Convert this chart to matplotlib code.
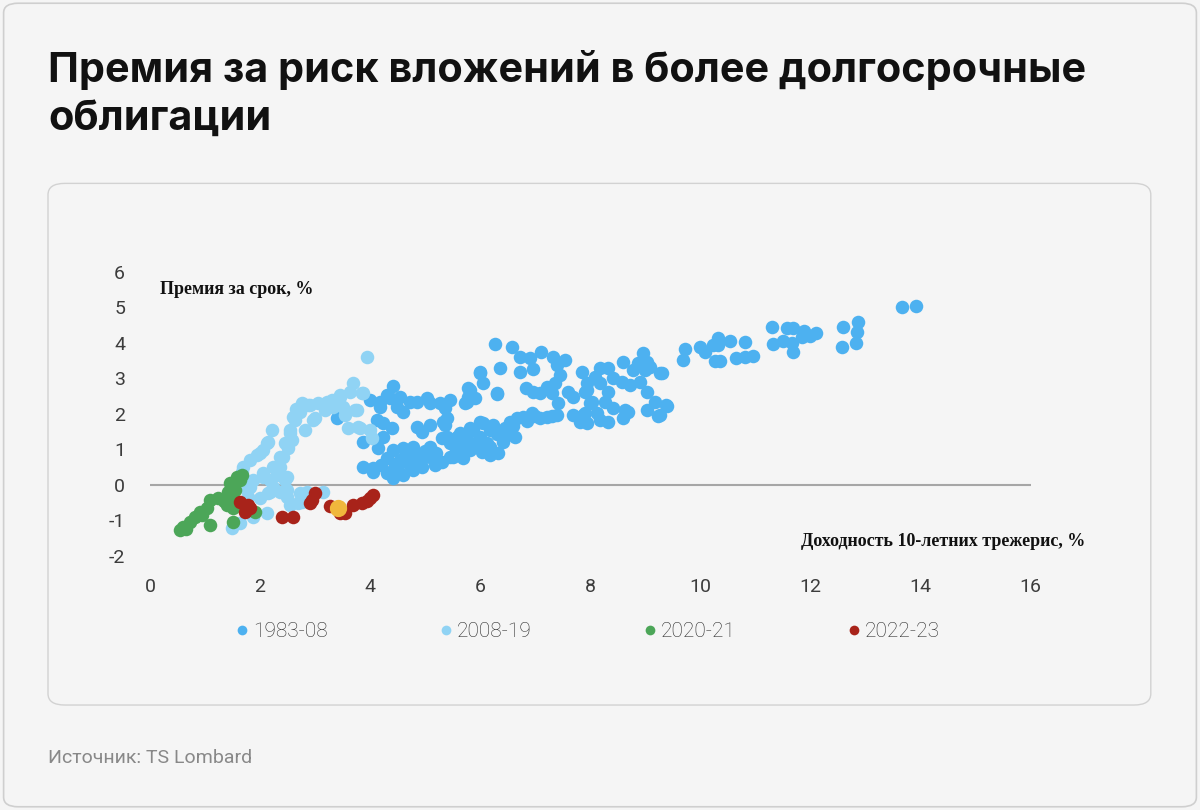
import matplotlib.pyplot as plt
from matplotlib.patches import FancyBboxPatch
from matplotlib.lines import Line2D

plt.rcParams['axes.unicode_minus'] = False

# 1983-08
blue_x = [13.66, 13.91, 12.86, 12.59, 12.84, 12.57, 12.82, 11.30, 11.57, 11.68, 11.88, 12.10, 11.99, 11.84, 11.50,
          11.66, 11.32, 11.68, 9.72, 9.68, 9.99, 10.08, 10.23, 10.32, 10.32, 10.53, 10.81, 10.26, 10.35, 10.64,
          10.81, 10.95, 9.30, 9.39, 9.26,
          8.95, 8.59, 9.03, 8.86, 9.08, 8.77, 8.99, 9.26, 8.17, 8.32, 7.85, 8.08, 8.41, 8.57, 8.72, 8.90, 7.94,
          8.17, 7.90, 8.32, 9.03, 8.26, 7.99, 9.17, 9.37, 9.03, 9.23, 8.41, 8.63, 8.68, 8.59, 8.12, 7.86, 7.81,
          8.32, 8.17, 7.94,
          6.27, 6.57, 7.10, 6.72, 6.90, 7.32, 7.54, 7.39, 5.99, 6.36, 6.72, 6.96, 7.45, 6.05, 7.36, 7.21, 6.83,
          7.08, 6.96, 7.30, 6.30, 5.81, 5.78, 5.90, 5.45, 5.72, 7.59, 7.68, 7.94, 8.03, 7.41, 5.27, 5.39, 5.36,
          7.68, 7.90, 7.39,
          5.50, 5.69, 5.63, 5.81, 5.87, 5.99, 5.99, 6.18, 6.12, 6.23, 6.32, 6.41, 6.54, 6.66, 6.77, 6.94, 7.08,
          7.21, 6.63, 6.03, 6.18, 5.39, 5.58, 6.45, 6.60, 6.85, 7.00, 7.30, 6.30, 6.50,
          4.41, 5.99, 5.78, 5.75, 6.30, 4.00, 4.18, 4.36, 4.54, 4.48, 4.72, 4.85, 5.03, 5.09, 4.60, 5.36, 4.12,
          4.23, 4.40, 4.23, 3.87, 4.14, 4.85, 5.09, 4.94, 5.32, 5.30, 5.45, 5.63, 5.81, 6.05, 4.41, 4.60, 4.78,
          5.09, 4.30, 4.54, 4.85, 5.09, 5.18, 5.45, 3.87, 4.05, 4.41, 4.60, 4.78, 4.94, 4.41, 5.63, 5.81, 5.99,
          6.18, 4.18, 4.30, 3.40, 4.05,
          4.50, 4.70, 4.90, 5.00, 5.20, 5.30, 4.65, 4.45, 5.55, 5.75, 5.90, 4.30, 4.20]
blue_y = [5.01, 5.04, 4.59, 4.45, 4.31, 3.89, 4.00, 4.45, 4.42, 4.42, 4.34, 4.28, 4.20, 4.17, 4.06,
          4.00, 3.97, 3.75, 3.83, 3.52, 3.89, 3.75, 3.94, 4.14, 3.94, 4.06, 4.03, 3.49, 3.49, 3.58,
          3.61, 3.63, 3.15, 2.23, 1.97,
          3.72, 3.46, 3.46, 3.43, 3.32, 3.24, 3.24, 3.15, 3.30, 3.30, 3.18, 3.04, 3.01, 2.90, 2.82, 2.90, 2.87,
          2.87, 2.62, 2.62, 2.62, 2.34, 2.31, 2.34, 2.25, 2.11, 1.94, 2.17, 2.11, 2.06, 1.89, 2.03, 1.97, 1.77,
          1.77, 1.83, 1.75,
          3.97, 3.89, 3.75, 3.61, 3.58, 3.61, 3.52, 3.38, 3.18, 3.30, 3.18, 3.27, 3.10, 2.87, 2.87, 2.76, 2.73,
          2.59, 2.62, 2.59, 2.59, 2.68, 2.48, 2.45, 2.39, 2.31, 2.62, 2.48, 2.68, 2.34, 2.31, 2.31, 1.89, 1.69,
          1.97, 2.03, 1.97,
          0.79, 0.76, 1.07, 1.18, 1.55, 1.35, 1.77, 1.55, 1.18, 1.69, 0.90, 1.21, 1.77, 1.89, 1.92, 2.03, 1.89,
          1.92, 1.35, 0.93, 0.85, 1.35, 1.35, 1.60, 1.65, 1.80, 1.95, 1.95, 1.45, 1.45,
          2.79, 3.15, 2.73, 2.34, 2.56, 2.39, 2.34, 2.45, 2.48, 2.20, 2.34, 2.34, 2.45, 2.31, 2.06, 2.17, 1.83,
          1.75, 1.61, 1.35, 1.21, 1.04, 1.63, 1.69, 1.49, 1.77, 1.32, 1.18, 1.46, 1.61, 1.75, 0.99, 1.04, 1.07,
          1.07, 0.76, 0.70, 0.79, 0.79, 0.56, 0.79, 0.51, 0.48, 0.42, 0.28, 0.42, 0.51, 0.20, 0.85, 0.99, 1.18,
          1.07, 2.20, 2.54, 1.89, 0.37,
          0.55, 0.60, 0.65, 0.95, 0.90, 0.65, 0.85, 0.60, 1.00, 1.30, 1.10, 0.35, 0.55]

# 2008-19
lblue_x = [3.94, 3.69, 3.63, 3.85, 3.45, 3.21, 3.32, 3.51, 3.76, 3.54, 3.18, 3.60, 3.81, 4.00, 4.03, 2.76, 2.87,
           2.72, 2.96, 2.63, 2.81, 2.54, 2.58, 2.51, 2.42, 2.36, 2.49, 2.31, 2.22, 2.14, 2.05, 1.94, 1.82, 1.69,
           2.05, 2.18, 2.23, 2.14, 1.82, 1.78, 2.36, 2.49, 2.54, 2.76, 2.85, 3.14, 2.69, 2.45, 2.12, 2.00, 1.67,
           2.54, 2.45, 2.36, 2.23, 2.05, 1.87, 1.76, 2.18, 2.49, 2.00, 2.12, 1.87, 1.63, 1.49, 2.72, 2.76, 3.87,
           3.72, 3.78, 3.05, 3.30, 3.40, 2.66, 2.60, 2.91, 3.00, 3.27, 3.45]
lblue_y = [3.61, 2.87, 2.62, 2.59, 2.54, 2.34, 2.20, 2.20, 2.11, 1.97, 2.11, 1.61, 1.61, 1.55, 1.32, 2.31, 2.25,
           2.06, 1.83, 1.83, 1.55, 1.55, 1.27, 1.04, 0.79, 0.51, 0.23, 0.28, 1.55, 1.21, 0.99, 0.85, 0.70, 0.51,
           0.23, 0.14, -0.06, -0.23, -0.06, -0.34, -0.20, -0.34, -0.56, -0.28, -0.20, -0.20, -0.51, 0.14, 1.18,
           0.90, 0.37, 1.46, 1.18, 0.79, 0.51, 0.34, 0.14, -0.14, -0.20, -0.14, -0.37, -0.79, -0.90, -1.07,
           -1.21, -0.23, -0.48, 2.59, 2.11, 1.63, 2.30, 2.40, 2.35, 2.15, 1.92, 2.25, 1.89, 2.31, 2.48]

# 2020-21
green_x = [1.67, 1.58, 1.45, 1.42, 1.49, 1.24, 1.09, 1.40, 1.51, 1.04, 0.91, 0.82, 0.73, 0.60, 0.54, 1.09, 1.51,
           1.91, 1.63, 1.35, 1.55, 0.95, 0.65]
green_y = [0.28, 0.23, 0.06, -0.20, -0.37, -0.37, -0.42, -0.56, -0.65, -0.65, -0.76, -0.90, -1.04, -1.18, -1.27,
           -1.13, -1.04, -0.76, 0.14, -0.45, -0.15, -0.85, -1.25]

# 2022-23
red_x = [1.63, 1.78, 1.73, 1.82, 2.40, 2.60, 3.00, 2.94, 2.91, 3.27, 3.40, 3.54, 3.69, 3.85, 4.00, 4.05, 3.45, 3.95]
red_y = [-0.48, -0.56, -0.76, -0.65, -0.90, -0.90, -0.23, -0.42, -0.51, -0.59, -0.65, -0.79, -0.56, -0.51, -0.37,
         -0.28, -0.80, -0.45]

latest_x = [3.41]
latest_y = [-0.65]

labels = ['1983-08', '2008-19', '2020-21', '2022-23']
colors = ['#4db1f0', '#90d3f4', '#4ca658', '#a8231a']

bg = '#f5f5f5'
fig = plt.figure(figsize=(12, 8.1), dpi=100, facecolor=bg)

fig.patches.append(FancyBboxPatch((0.003, 0.004), 0.994, 0.992, boxstyle='round,pad=0,rounding_size=0.012',
                                  transform=fig.transFigure, facecolor='none', edgecolor='#cfcfcf', lw=1.2,
                                  zorder=-2))
fig.patches.append(FancyBboxPatch((0.04, 0.1296), 0.919, 0.644, boxstyle='round,pad=0,rounding_size=0.014',
                                  transform=fig.transFigure, facecolor='none', edgecolor='#d2d2d2', lw=1.0,
                                  zorder=-2))

fig.text(0.04, 0.938, 'Премия за риск вложений в более долгосрочные\nоблигации', fontsize=29.8,
         fontweight='bold', family='Inter', va='top', ha='left', color='#111111', linespacing=1.36)
fig.text(0.04, 0.064, 'Источник: TS Lombard', fontsize=14, family='Roboto', color='#888888', va='center')

ax = fig.add_axes([0.125, 0.3136, 0.734, 0.3506])
ax.set_facecolor('none')
ax.set_xlim(0, 16)
ax.set_ylim(-2, 6)
for s in ax.spines.values():
    s.set_visible(False)
ax.set_xticks(range(0, 17, 2))
ax.set_yticks(range(-2, 7))
ax.tick_params(length=0, labelsize=14, labelcolor='#3c3c3c', pad=18)
ax.tick_params(axis='x', pad=16)
for lab in ax.get_xticklabels() + ax.get_yticklabels():
    lab.set_family('Roboto')

ax.plot([0, 16], [0, 0], color='#a6a6a6', lw=1.5, zorder=1)

ax.scatter(blue_x, blue_y, s=95, color=colors[0], lw=0, zorder=2, clip_on=False)
ax.scatter(lblue_x, lblue_y, s=95, color=colors[1], lw=0, zorder=3, clip_on=False)
ax.scatter(green_x, green_y, s=95, color=colors[2], lw=0, zorder=4, clip_on=False)
ax.scatter(red_x, red_y, s=95, color=colors[3], lw=0, zorder=5, clip_on=False)
ax.scatter(latest_x, latest_y, s=155, color='#f0b73c', lw=0, zorder=6, clip_on=False)

ax.text(0.18, 5.5, 'Премия за срок, %', family='Liberation Serif', fontsize=13, fontweight='bold',
        color='#111111', va='center', ha='left')
ax.text(17.0, -1.58, 'Доходность 10-летних трежерис, %', family='Liberation Serif', fontsize=13,
        fontweight='bold', color='#111111', va='center', ha='right', clip_on=False)

handles = [Line2D([], [], marker='o', ls='', markersize=7, color=c, markeredgewidth=0) for c in colors]
leg = fig.legend(handles, labels, loc='center', bbox_to_anchor=(0.49, 0.22), ncol=4, frameon=False,
                 handlelength=0.6, handletextpad=0.2, columnspacing=5.4,
                 prop={'family': 'Roboto', 'size': 15, 'weight': 'light'})
for t in leg.get_texts():
    t.set_color('#2a2a2a')

fig.savefig('out.png', dpi=100, facecolor=bg)
